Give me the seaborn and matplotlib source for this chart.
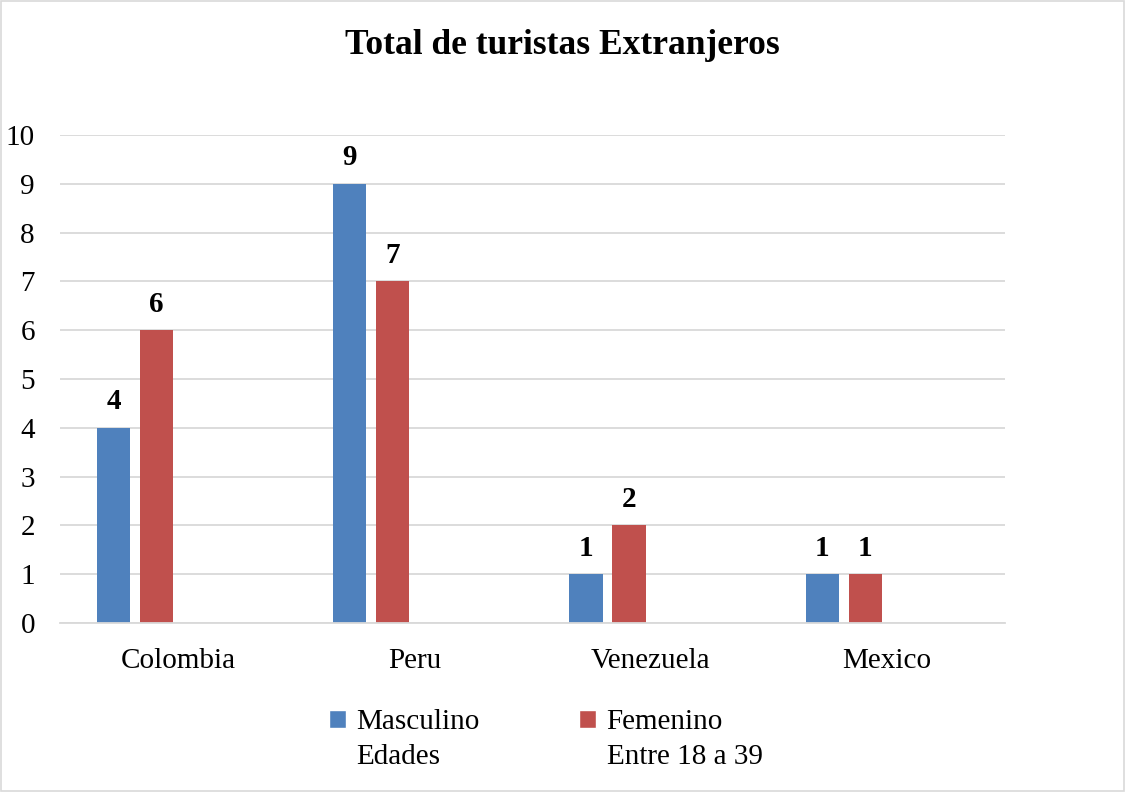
import matplotlib
matplotlib.use("Agg")
import matplotlib.pyplot as plt
from matplotlib.patches import Patch, Rectangle
import pandas as pd
import seaborn as sns

# data
paises = ["Colombia", "Peru", "Venezuela", "Mexico"]
masculino = [4, 9, 1, 1]
femenino = [6, 7, 2, 1]
# Excel chart reserves two more (empty) series slots per category
vacio_a = [0, 0, 0, 0]
vacio_b = [0, 0, 0, 0]
series = ["Masculino", "Femenino", "s3", "s4"]
colores = ["#4F81BD", "#C0504D", "#FFFFFF", "#FFFFFF"]

df = pd.DataFrame({
    "pais": paises * 4,
    "serie": sum([[s] * 4 for s in series], []),
    "valor": masculino + femenino + vacio_a + vacio_b,
})

sns.set_theme(style="white")
plt.rcParams["font.family"] = ["Liberation Serif", "DejaVu Serif"]
plt.rcParams["text.color"] = "black"

fig = plt.figure(figsize=(11.25, 7.92), dpi=100)
ax = fig.add_axes([0.0533, 0.2134, 0.84, 0.6161])

sns.barplot(data=df, x="pais", y="valor", hue="serie", hue_order=series,
            order=paises, palette=colores, saturation=1, width=0.73, gap=0.23,
            linewidth=0, ax=ax, legend=False)

ax.set_ylim(0, 10)
ax.set_yticks(range(0, 11))
ax.set_xlim(-0.5, 3.5)
ax.yaxis.grid(True, color="#d9d9d9", linewidth=1.3)
ax.set_axisbelow(True)
for s in ["top", "right", "left"]:
    ax.spines[s].set_visible(False)
ax.spines["bottom"].set_color("#d9d9d9")
ax.spines["bottom"].set_linewidth(1.3)
ax.tick_params(axis="both", length=0, labelsize=21, colors="black")
ax.tick_params(axis="x", pad=18)
ax.tick_params(axis="y", pad=18)
ax.set_xlabel("")
ax.set_ylabel("")

for cont in ax.containers[:2]:
    ax.bar_label(cont, fmt="%d", padding=9, fontsize=21, fontweight="bold",
                 color="black")

fig.text(0.5, 0.943, "Total de turistas Extranjeros", ha="center", va="center",
         fontsize=25.5, fontweight="bold", color="black")

blank = Patch(facecolor="none", edgecolor="none")
handles = [Patch(facecolor=colores[0]), blank, Patch(facecolor=colores[1]), blank]
labels = ["Masculino", "Edades", "Femenino", "Entre 18 a 39"]
fig.legend(handles, labels, ncol=2, loc="center", bbox_to_anchor=(0.485, 0.066),
           frameon=False, fontsize=21, handlelength=0.6, handleheight=0.6,
           handletextpad=0.35, columnspacing=3.4, labelspacing=0.3,
           labelcolor="black")

fig.patches.append(Rectangle((0.001, 0.001), 0.998, 0.998, transform=fig.transFigure,
                             fill=False, edgecolor="#d9d9d9", linewidth=1.2))

fig.savefig("out.png", dpi=100)
